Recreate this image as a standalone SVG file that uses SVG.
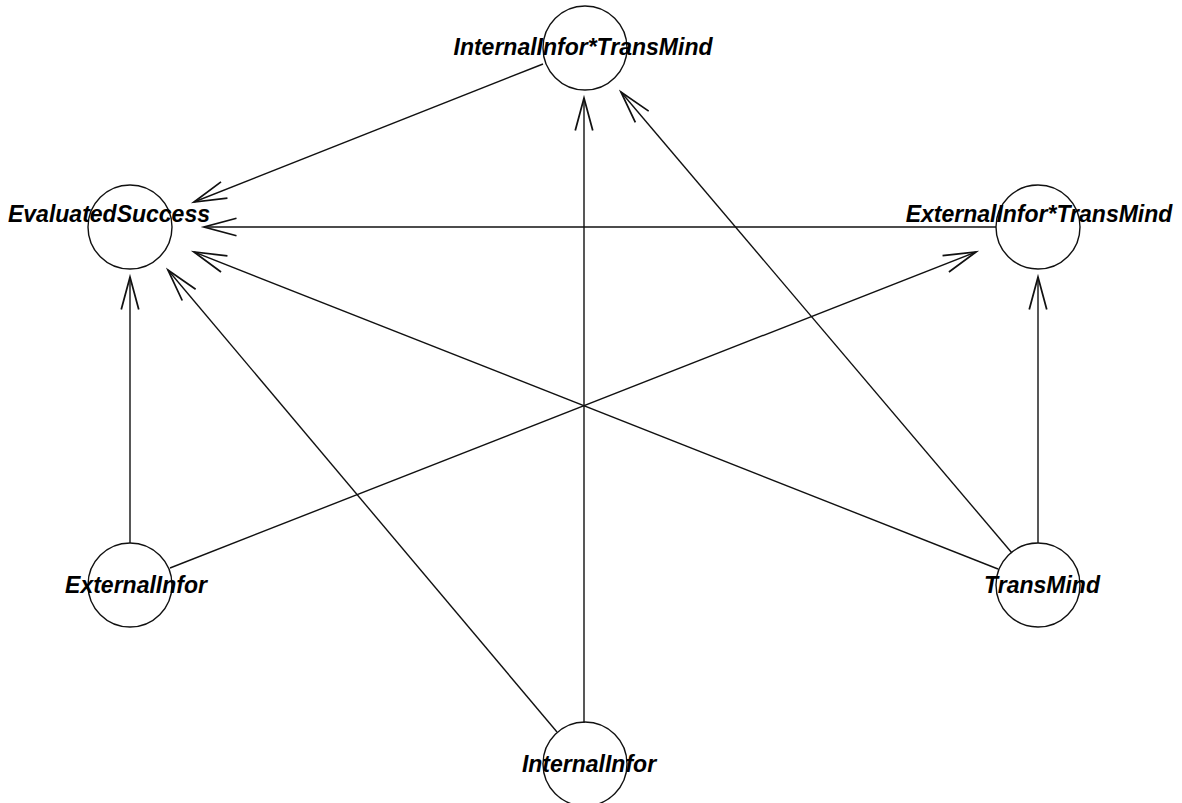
<svg xmlns="http://www.w3.org/2000/svg" width="1182" height="803" viewBox="0 0 1182 803">
<style>
.edge{stroke:#111;stroke-width:1.4;fill:none;marker-end:url(#arr)}
.node circle{fill:none;stroke:#111;stroke-width:1.4}
.node text{font-family:"Liberation Sans",Arial,sans-serif;font-weight:bold;font-style:italic;font-size:23px;fill:#000;text-anchor:middle}
</style>
<defs>
<marker id="arr" markerUnits="userSpaceOnUse" markerWidth="40" markerHeight="40" viewBox="-30 -10 32 20" refX="0" refY="0" orient="auto" overflow="visible">
<path d="M-26,-7 L0,0 L-26,7" fill="none" stroke="#111" stroke-width="1.4"/>
</marker>
</defs>
<rect width="1182" height="803" fill="#fff"/>
<g id="edges">
<line class="edge" x1="543" y1="64" x2="194" y2="202"/>
<line class="edge" x1="996" y1="227" x2="204" y2="227"/>
<line class="edge" x1="998" y1="569" x2="194" y2="252"/>
<line class="edge" x1="557" y1="732" x2="168" y2="270"/>
<line class="edge" x1="130" y1="543" x2="130" y2="277"/>
<line class="edge" x1="170" y1="568" x2="976" y2="252"/>
<line class="edge" x1="584" y1="723" x2="584" y2="98"/>
<line class="edge" x1="1012" y1="553" x2="621" y2="92"/>
<line class="edge" x1="1038" y1="543" x2="1038" y2="277"/>
</g>
<g id="node-InternalInforTransMind" class="node"><circle cx="585" cy="48" r="42"/><text x="583" y="55">InternalInfor*TransMind</text></g>
<g id="node-EvaluatedSuccess" class="node"><circle cx="130" cy="227" r="42"/><text x="109" y="222">EvaluatedSuccess</text></g>
<g id="node-ExternalInforTransMind" class="node"><circle cx="1038" cy="227" r="42"/><text x="1039" y="222">ExternalInfor*TransMind</text></g>
<g id="node-ExternalInfor" class="node"><circle cx="130" cy="585" r="42"/><text x="136" y="593">ExternalInfor</text></g>
<g id="node-TransMind" class="node"><circle cx="1038" cy="585" r="42"/><text x="1042" y="593">TransMind</text></g>
<g id="node-InternalInfor" class="node"><circle cx="585" cy="764" r="42"/><text x="589" y="772">InternalInfor</text></g>
</svg>
